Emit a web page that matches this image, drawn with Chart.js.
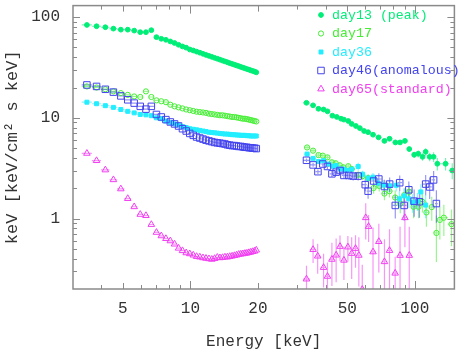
<!DOCTYPE html>
<html>
<head>
<meta charset="utf-8">
<script src="https://cdn.jsdelivr.net/npm/chart.js@4.4.1/dist/chart.umd.min.js"></script>
<style>
  html, body { margin: 0; padding: 0; background: #fff; }
  #wrap { width: 460px; height: 352px; }
</style>
</head>
<body>
<div id="wrap"><canvas id="spectra" width="460" height="352"></canvas></div>
<script>
// 3-20 keV band, same energy bins for every day (keV)
const eLow = [3.46, 3.82, 4.18, 4.54, 4.90, 5.26, 5.62, 5.98, 6.34, 6.70, 7.06, 7.42, 7.78, 8.14, 8.50, 8.86,
  9.22, 9.58, 9.94, 10.30, 10.66, 11.02, 11.38, 11.74, 12.10, 12.46, 12.82, 13.18, 13.54, 13.90, 14.26, 14.62,
  14.98, 15.34, 15.70, 16.06, 16.42, 16.78, 17.14, 17.50, 17.86, 18.22, 18.58, 18.94, 19.30, 19.66];
const lowHalfBin = 0.18;

const day13Low = [83.5, 81.1, 79.3, 76.8, 75.0, 75.0, 73.4, 70.8, 70.8, 74.1, 63.2, 60.9, 59.5, 57.3, 55.3, 53.1,
  51.1, 49.7, 47.7, 46.6, 45.4, 44.3, 43.2, 42.1, 41.2, 40.3, 39.4, 38.6, 37.8, 37.0, 36.3, 35.6,
  34.9, 34.3, 33.7, 33.1, 32.6, 32.0, 31.5, 31.0, 30.5, 30.1, 29.6, 29.2, 28.8, 28.3];
const day17Low = [20.5, 20.0, 19.2, 18.3, 17.6, 16.9, 16.3, 16.1, 18.3, 16.1, 14.9, 14.6, 14.3, 13.5, 13.0, 12.7,
  12.4, 12.1, 11.9, 11.7, 11.5, 11.4, 11.3, 11.2, 11.0, 10.9, 10.8, 10.7, 10.6, 10.6, 10.5, 10.4,
  10.3, 10.2, 10.2, 10.1, 10.0, 9.9, 9.8, 9.8, 9.7, 9.6, 9.5, 9.4, 9.3, 9.2];
const day36Low = [14.3, 13.8, 13.2, 12.7, 12.1, 11.6, 11.2, 10.8, 10.7, 10.5, 10.0, 9.8, 9.3, 9.0, 8.7, 8.5,
  8.2, 8.0, 7.8, 7.7, 7.6, 7.5, 7.4, 7.3, 7.2, 7.15, 7.1, 7.05, 7.0, 6.95, 6.9, 6.9,
  6.85, 6.8, 6.8, 6.75, 6.75, 6.7, 6.7, 6.7, 6.65, 6.65, 6.6, 6.6, 6.6, 6.6];
const day46Low = [21.2, 20.5, 19.2, 18.0, 16.5, 15.1, 14.0, 13.0, 12.2, 13.0, 10.8, 10.2, 9.6, 9.1, 8.7, 8.3,
  7.8, 7.4, 7.0, 6.7, 6.45, 6.3, 6.15, 6.0, 5.9, 5.8, 5.7, 5.65, 5.6, 5.55, 5.5, 5.4,
  5.35, 5.3, 5.3, 5.25, 5.2, 5.2, 5.15, 5.1, 5.1, 5.05, 5.05, 5.0, 5.0, 4.95];
const day65Low = [4.44, 3.76, 3.04, 2.43, 1.97, 1.58, 1.31, 1.10, 1.07, 0.873, 0.729, 0.674, 0.633, 0.601, 0.558, 0.508,
  0.480, 0.457, 0.447, 0.434, 0.420, 0.415, 0.408, 0.403, 0.399, 0.394, 0.401, 0.412, 0.408, 0.410, 0.415, 0.415,
  0.420, 0.424, 0.429, 0.434, 0.441, 0.444, 0.447, 0.451, 0.454, 0.459, 0.464, 0.470, 0.475, 0.486];

// 30-150 keV band, each day has its own bins
const day13HighE = [32.9, 35.2, 37.2, 39.2, 40.8, 42.9, 44.9, 46.9, 48.3, 50.5, 52.3, 54.6, 56.9, 59.4, 61.9, 65.1,
  68.9, 73.2, 77.1, 81.9, 85.9, 90.3, 94.4, 99.3, 103.5, 108.2, 111.7, 116.4, 121.2, 125.9, 137.0, 146.7];
const day13High = [14.1, 13.3, 12.3, 12.1, 11.6, 10.5, 10.2, 9.8, 9.6, 9.3, 8.7, 8.3, 7.9, 7.4, 7.2, 6.8,
  6.4, 5.9, 6.2, 5.7, 5.7, 5.9, 4.9, 4.3, 4.4, 4.1, 4.6, 4.1, 4.1, 3.5, 3.5, 3.0];
const day13Err = [0.25, 0.25, 0.25, 0.25, 0.25, 0.25, 0.25, 0.25, 0.25, 0.25, 0.25, 0.25, 0.25, 0.25, 0.25, 0.25,
  0.25, 0.3, 0.3, 0.3, 0.3, 0.3, 0.3, 0.3, 0.35, 0.35, 0.4, 0.4, 0.45, 0.5, 0.5, 0.55];

const day17HighE = [33.1, 35.2, 37.2, 38.9, 40.8, 42.7, 44.4, 46.3, 48.0, 50.5, 52.3, 55.9, 58.5, 61.9, 65.5, 69.4,
  73.2, 77.1, 81.7, 86.1, 89.7, 94.4, 98.7, 103.8, 108.1, 112.6, 118.9, 124.7, 129.2, 134.6, 145.6];
const day17High = [5.08, 4.72, 4.27, 4.21, 4.05, 3.62, 3.54, 3.38, 3.23, 3.31, 3.11, 2.72, 2.64, 2.52, 2.01, 2.11,
  1.77, 1.87, 1.62, 1.41, 1.71, 1.84, 1.31, 1.31, 1.47, 1.15, 1.30, 0.72, 0.97, 1.02, 0.88];
const day17Err = [0.2, 0.2, 0.2, 0.2, 0.2, 0.2, 0.2, 0.2, 0.2, 0.2, 0.2, 0.22, 0.22, 0.22, 0.25, 0.25,
  0.25, 0.25, 0.28, 0.28, 0.3, 0.3, 0.3, 0.3, 0.32, 0.32, 0.35, 0.35, 0.35, 0.35, 0.35];

const day36HighE = [33.1, 35.2, 37.2, 39.2, 41.3, 43.0, 44.6, 46.4, 48.2, 49.8, 52.3, 55.9, 58.5, 61.9, 65.1, 68.5,
  72.5, 77.1, 82.6, 85.3, 89.6, 93.9, 97.6, 102.7, 106.3, 111.7];
const day36High = [4.37, 3.96, 3.68, 3.76, 3.48, 3.31, 3.36, 3.11, 3.09, 3.00, 3.09, 3.29, 2.76, 2.52, 2.58, 2.25,
  2.15, 2.11, 2.14, 1.57, 1.68, 1.57, 1.44, 1.49, 1.84, 1.36];
const day36Err = [0.15, 0.15, 0.15, 0.15, 0.15, 0.18, 0.18, 0.18, 0.2, 0.2, 0.2, 0.3, 0.22, 0.22, 0.25, 0.25,
  0.25, 0.28, 0.28, 0.3, 0.3, 0.3, 0.3, 0.3, 0.35, 0.35];

const day46HighE = [32.9, 35.2, 37.0, 38.9, 40.8, 42.7, 44.6, 46.4, 48.3, 50.8, 53.1, 55.9, 60.1, 61.9, 65.5, 69.1,
  73.2, 77.2, 81.8, 85.6, 89.6, 94.0, 99.3, 104.8, 111.7, 116.4, 121.2, 124.7];
const day46High = [3.79, 3.41, 2.92, 3.48, 3.29, 2.78, 2.89, 3.00, 2.68, 2.68, 2.64, 2.64, 2.17, 1.87, 2.36, 2.47,
  2.08, 2.20, 1.35, 2.27, 1.35, 1.93, 1.49, 1.47, 2.20, 2.06, 2.42, 1.41];
const day46Err = [0.15, 0.15, 0.15, 0.2, 0.2, 0.2, 0.2, 0.2, 0.2, 0.25, 0.25, 0.25, 0.3, 0.3, 0.3, 0.35,
  0.35, 0.35, 0.35, 0.4, 0.4, 0.4, 0.45, 0.45, 0.5, 0.5, 0.55, 0.5];

const day65HighE = [32.9, 35.2, 36.9, 39.2, 40.8, 42.7, 44.6, 46.4, 48.3, 50.3, 52.3, 54.4, 56.3, 58.3, 60.4, 62.2,
  65.1, 69.1, 73.2, 77.1, 81.7, 85.9, 90.3, 94.4];
const day65High = [0.251, 0.493, 0.424, 0.327, 0.267, 0.394, 0.434, 0.529, 0.386, 0.522, 0.451, 0.505, 0.432, 0.198, 1.02, 0.835,
  0.467, 0.591, 0.373, 0.482, 0.287, 0.431, 1.02, 0.431];
const day65Err = [0.09, 0.13, 0.14, 0.12, 0.10, 0.18, 0.20, 0.15, 0.14, 0.15, 0.20, 0.18, 0.22, 0.15, 0.40, 0.25,
  0.35, 0.30, 0.25, 0.30, 0.13, 0.40, 0.50, 0.40];

const labels = ['day13 (peak)', 'day17', 'day36', 'day46(anomalous)', 'day65(standard)'];
const colors = ['#00ee77', '#44ee33', '#22eeff', '#4444ee', '#f040f0'];

const xTickLabels = [5, 10, 20, 50, 100];
const xMinorTicks = [4, 6, 7, 8, 9, 30, 40, 60, 70, 80, 90];
const yTickLabels = [1, 10, 100];
const yMinorTicks = [0.3, 0.4, 0.5, 0.6, 0.7, 0.8, 0.9, 2, 3, 4, 5, 6, 7, 8, 9, 20, 30, 40, 50, 60, 70, 80, 90];

function buildPoints(lowF, highE, highF, highErr) {
  const pts = eLow.map((e, i) => ({ x: e, y: lowF[i], xl: e - lowHalfBin, xh: e + lowHalfBin }));
  highE.forEach((e, i) => {
    const left = i > 0 ? (e - highE[i - 1]) / 2 : (highE[i + 1] - e) / 2;
    const right = i < highE.length - 1 ? (highE[i + 1] - e) / 2 : left;
    pts.push({ x: e, y: highF[i], xl: e - left, xh: e + right, yl: highF[i] - highErr[i], yh: highF[i] + highErr[i] });
  });
  return pts;
}

const markers = [
  { pointStyle: 'circle', radius: 2.4, filled: true },
  { pointStyle: 'circle', radius: 2.6, filled: false },
  { pointStyle: 'rect', radius: 2.8, filled: true },
  { pointStyle: 'rect', radius: 4.6, filled: false },
  { pointStyle: 'triangle', radius: 3.8, filled: false }
];

const allPoints = [
  buildPoints(day13Low, day13HighE, day13High, day13Err),
  buildPoints(day17Low, day17HighE, day17High, day17Err),
  buildPoints(day36Low, day36HighE, day36High, day36Err),
  buildPoints(day46Low, day46HighE, day46High, day46Err),
  buildPoints(day65Low, day65HighE, day65High, day65Err)
];

const datasets = labels.map((label, i) => ({
  label: label,
  data: allPoints[i],
  showLine: false,
  borderColor: colors[i],
  backgroundColor: markers[i].filled ? colors[i] : 'rgba(0,0,0,0)',
  pointStyle: markers[i].pointStyle,
  pointRadius: markers[i].radius,
  pointBorderWidth: 1,
  order: [5, 4, 3, 2, 1][i]
}));

// x and y error bars, under the markers
const errorBars = {
  id: 'errorBars',
  beforeDatasetsDraw(chart) {
    const { ctx, chartArea: a, scales: { x, y } } = chart;
    ctx.save();
    ctx.beginPath();
    ctx.rect(a.left, a.top, a.right - a.left, a.bottom - a.top);
    ctx.clip();
    chart.data.datasets.forEach(ds => {
      ctx.strokeStyle = ds.borderColor;
      ctx.globalAlpha = 0.55;
      ctx.lineWidth = 1.2;
      ctx.beginPath();
      ds.data.forEach(p => {
        const px = x.getPixelForValue(p.x);
        const py = y.getPixelForValue(p.y);
        ctx.moveTo(x.getPixelForValue(p.xl), py);
        ctx.lineTo(x.getPixelForValue(p.xh), py);
        if (p.yh !== undefined) {
          const lo = p.yl > 0 ? y.getPixelForValue(p.yl) : a.bottom + 5;
          ctx.moveTo(px, Math.min(lo, a.bottom + 5));
          ctx.lineTo(px, y.getPixelForValue(p.yh));
        }
      });
      ctx.stroke();
    });
    ctx.restore();
  }
};

// box with inward ticks on all four sides
const frameTicks = {
  id: 'frameTicks',
  afterDatasetsDraw(chart) {
    const { ctx, chartArea: a, scales: { x, y } } = chart;
    ctx.save();
    ctx.strokeStyle = '#8a8a8a';
    ctx.lineWidth = 1;
    ctx.beginPath();
    const tx = (v, len) => {
      const p = Math.round(x.getPixelForValue(v)) + 0.5;
      ctx.moveTo(p, a.bottom); ctx.lineTo(p, a.bottom - len);
      ctx.moveTo(p, a.top); ctx.lineTo(p, a.top + len);
    };
    const ty = (v, len) => {
      const p = Math.round(y.getPixelForValue(v)) + 0.5;
      ctx.moveTo(a.left, p); ctx.lineTo(a.left + len, p);
      ctx.moveTo(a.right, p); ctx.lineTo(a.right - len, p);
    };
    xTickLabels.forEach(v => tx(v, v === 10 || v === 100 ? 8 : 6));
    xMinorTicks.forEach(v => tx(v, 4));
    yTickLabels.forEach(v => ty(v, 7));
    yMinorTicks.forEach(v => ty(v, 4));
    ctx.stroke();
    ctx.lineWidth = 1.5;
    ctx.strokeRect(a.left, a.top, a.right - a.left, a.bottom - a.top);
    ctx.restore();
  }
};

// legend in the upper right corner, text in the series colour
const legendBox = {
  id: 'legendBox',
  afterDraw(chart) {
    const ctx = chart.ctx;
    ctx.save();
    ctx.font = "13.3px 'Liberation Mono'";
    ctx.textBaseline = 'middle';
    chart.data.datasets.forEach((ds, i) => {
      const yPos = 15 + i * 18.5;
      ctx.strokeStyle = ds.borderColor;
      ctx.fillStyle = ds.backgroundColor;
      ctx.lineWidth = 1;
      Chart.helpers.drawPoint(ctx, { pointStyle: ds.pointStyle, radius: ds.pointRadius, borderWidth: 1, rotation: 0 }, 321, yPos);
      ctx.fillStyle = ds.borderColor;
      ctx.fillText(ds.label, 332, yPos);
    });
    ctx.restore();
  }
};

Chart.defaults.font.family = "'Liberation Mono', monospace";

new Chart(document.getElementById('spectra'), {
  type: 'scatter',
  data: { datasets: datasets },
  options: {
    responsive: false,
    animation: false,
    layout: { padding: { top: 1, right: 1, left: 0, bottom: 0 } },
    plugins: { legend: { display: false }, tooltip: { enabled: false } },
    scales: {
      x: {
        type: 'logarithmic',
        min: 3,
        max: 150,
        grid: { display: false, drawTicks: false },
        border: { display: false },
        afterBuildTicks: s => { s.ticks = xTickLabels.map(v => ({ value: v })); },
        afterFit: s => { s.height = 63; s.paddingLeft = 0; s.paddingRight = 0; },
        ticks: { padding: 10, color: '#333', font: { size: 16 }, maxRotation: 0, autoSkip: false, callback: v => String(v) },
        title: { display: true, text: 'Energy [keV]', color: '#333', font: { size: 16 }, padding: { top: 0, bottom: 1 } }
      },
      y: {
        type: 'logarithmic',
        min: 0.2,
        max: 130,
        grid: { display: false, drawTicks: false },
        border: { display: false },
        afterBuildTicks: s => { s.ticks = yTickLabels.map(v => ({ value: v })); },
        afterFit: s => { s.width = 73; s.paddingTop = 0; s.paddingBottom = 0; },
        ticks: { padding: 13, color: '#333', font: { size: 16 }, autoSkip: false, callback: v => String(v) },
        title: { display: true, text: 'keV [keV/cm² s keV]', color: '#333', font: { size: 17 }, padding: { top: 2, bottom: 0 } }
      }
    }
  },
  plugins: [errorBars, frameTicks, legendBox]
});
</script>
</body>
</html>
